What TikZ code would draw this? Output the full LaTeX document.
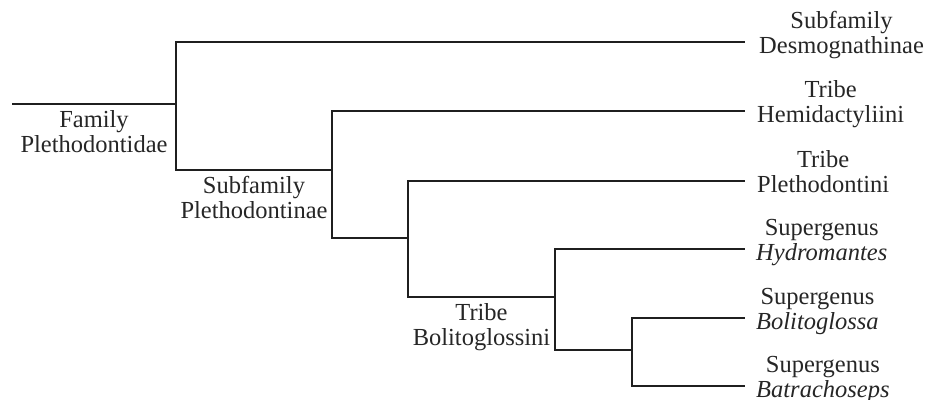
\documentclass[tikz,border=0pt]{standalone}
\usepackage{fontspec}
\setmainfont{Liberation Serif}
\usetikzlibrary{positioning,calc}
\tikzset{
  branch/.style={line width=2.4pt, draw=black!88},
  taxon/.style={align=center, inner sep=4pt, text=black!85, yshift=5.8pt,
    font=\fontsize{24.5}{24}\selectfont},
  clade/.style={align=center, inner sep=0pt, text=black!85, anchor=north,
    yshift=-6pt, font=\fontsize{24.5}{24}\selectfont},
}
\begin{document}
\begin{tikzpicture}[x=1pt,y=-1pt]
  \useasboundingbox (0,0) rectangle (933,399);
  % junctions of the tree
  \coordinate (root) at (12,104);
  \coordinate (fam) at (176,104);
  \coordinate (subfam) at (332,170);
  \coordinate (plet) at (408,238);
  \coordinate (bolit) at (555,297);
  \coordinate (supg) at (632,350);
  % tips
  \foreach \name/\y in {desmo/42, hemi/111, pleth/181, hydro/249, bolito/318, batra/386}
    \coordinate (\name) at (745,\y);

  % branches
  \draw[branch] (root) -- (fam);
  \draw[branch] (fam) |- (desmo);
  \draw[branch] (fam) |- (subfam);
  \draw[branch] (subfam) |- (hemi);
  \draw[branch] (subfam) |- (plet);
  \draw[branch] (plet) |- (pleth);
  \draw[branch] (plet) |- (bolit);
  \draw[branch] (bolit) |- (hydro);
  \draw[branch] (bolit) |- (supg);
  \draw[branch] (supg) |- (bolito);
  \draw[branch] (supg) |- (batra);

  % names at the tips
  \node[taxon, right=10pt of desmo] (desmoL) {\strut Subfamily\\\strut Desmognathinae};
  \node[taxon, right=8pt of hemi] (hemiL) {\strut Tribe\\\strut Hemidactyliini};
  \node[taxon, right=8pt of pleth] (plethL) {\strut Tribe\\\strut Plethodontini};
  \node[taxon, right=7pt of hydro] (hydroL) {\strut Supergenus\\\strut\textit{Hydromantes}};
  \node[taxon, right=7pt of bolito] (bolitoL) {\strut Supergenus\\\strut\textit{Bolitoglossa}};
  \node[taxon, right=7pt of batra] (batraL) {\strut Supergenus\\\strut\textit{Batrachoseps}};

  % names under the inner branches
  \node[clade] (famL) at ($(root)!.5!(fam)$) {\strut Family\\\strut Plethodontidae};
  \node[clade] (subfamL) at ($(fam|-subfam)!.5!(subfam)$) {\strut Subfamily\\\strut Plethodontinae};
  \node[clade] (bolitL) at ($(plet|-bolit)!.5!(bolit)$) {\strut Tribe\\\strut Bolitoglossini};
\end{tikzpicture}
\end{document}
